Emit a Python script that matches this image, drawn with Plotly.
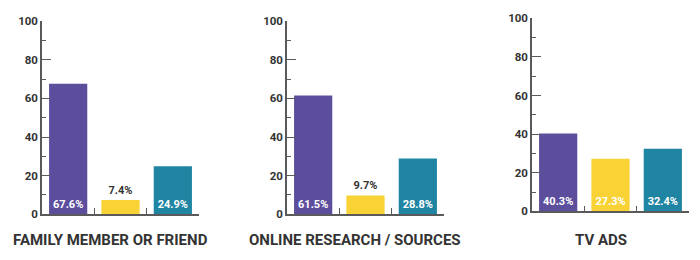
import plotly.graph_objects as go

# ---- data ----
panels = ["FAMILY MEMBER OR FRIEND", "ONLINE RESEARCH / SOURCES", "TV ADS"]
purple_vals = [67.6, 61.5, 40.3]
yellow_vals = [7.4, 9.7, 27.3]
teal_vals = [24.9, 28.8, 32.4]
y_ticks = [0, 20, 40, 60, 80, 100]

colors = ["#5C4E9C", "#F9D236", "#1F85A2"]
FONT = "Roboto"
DARK = "#333333"
AXIS = "#5a5a5a"

fig = go.Figure()

# pixel geometry of the three plot areas (x0, x1, ytop, ybottom)
W, H = 700, 260
areas = [(42, 199, 15, 219), (287, 444, 15, 219), (532, 689, 12, 216)]
title_x = [110, 355, 601]

for i, name in enumerate(panels):
    vals = [purple_vals[i], yellow_vals[i], teal_vals[i]]
    xs = list(range(len(vals)))
    positions = ["inside" if v > 15 else "outside" for v in vals]
    ax = "" if i == 0 else str(i + 1)
    fig.add_trace(go.Bar(
        x=xs, y=vals, width=0.73,
        marker=dict(color=colors, line=dict(width=0)),
        text=[f"{v:.1f}%" for v in vals],
        textposition=positions,
        insidetextanchor="start",
        insidetextfont=dict(family=FONT, size=11, color="white", weight="bold"),
        outsidetextfont=dict(family=FONT, size=11, color=DARK, weight="bold"),
        textangle=0,
        cliponaxis=False,
        constraintext="none",
        hoverinfo="skip",
        xaxis="x" + ax, yaxis="y" + ax,
        showlegend=False,
    ))
    x0, x1, yt, yb = areas[i]
    xd = [x0 / W, x1 / W]
    yd = [1 - yb / H, 1 - yt / H]
    fig.layout["xaxis" + ax] = dict(
        domain=xd, range=[-0.5, 2.5], anchor="y" + ax,
        showgrid=False, zeroline=False,
        showline=True, linecolor=AXIS, linewidth=1.5,
        tickvals=[0.5, 1.5, 2.5], ticks="inside", ticklen=6,
        tickwidth=1.2, tickcolor=AXIS, showticklabels=False,
        fixedrange=True,
    )
    fig.layout["yaxis" + ax] = dict(
        domain=yd, range=[0, 100], anchor="x" + ax,
        showgrid=False, zeroline=False,
        showline=True, linecolor=AXIS, linewidth=1.5,
        tickvals=y_ticks, ticks="inside", ticklen=9, tickwidth=1.2,
        tickcolor=AXIS,
        minor=dict(dtick=10, tick0=0, ticks="inside", ticklen=4,
                   tickwidth=1.2, tickcolor=AXIS, showgrid=False),
        tickfont=dict(family=FONT, size=11.5, color=DARK, weight="bold"),
        fixedrange=True,
    )
    fig.add_annotation(
        text=name, xref="paper", yref="paper",
        x=title_x[i] / W, y=1 - 246 / H, xanchor="center", yanchor="middle",
        showarrow=False,
        font=dict(family=FONT, size=15, color=DARK, weight="bold"),
    )

fig.update_layout(
    width=W, height=H,
    margin=dict(l=0, r=0, t=0, b=0),
    paper_bgcolor="white", plot_bgcolor="white",
    bargap=0.27,
)

fig.write_html("out.html")
